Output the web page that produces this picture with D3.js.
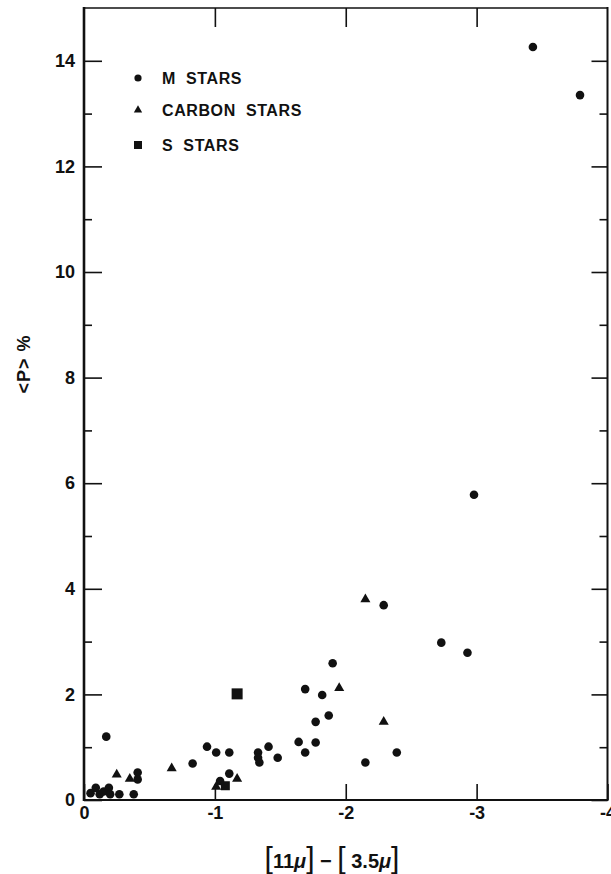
<!DOCTYPE html>
<html>
<head>
<meta charset="utf-8">
<script src="https://cdn.jsdelivr.net/npm/d3@7"></script>
<style>
  body { margin: 0; background: #fff; }
  text { font-family: "Liberation Sans", Arial, sans-serif; font-weight: bold; fill: #111; }
</style>
</head>
<body>
<svg id="chart" width="611" height="874"></svg>
<script>
// values
var mX = [-0.05, -0.09, -0.12, -0.15, -0.19, -0.20, -0.27, -0.38, -0.17, -0.41, -0.41,
          -0.83, -0.94, -1.01, -1.11, -1.04, -1.11, -1.33, -1.33, -1.34, -1.41, -1.48,
          -1.64, -1.69, -1.69, -1.90, -1.82, -1.87, -1.77, -1.77, -2.29, -2.15, -2.39,
          -2.73, -2.93, -2.98, -3.43, -3.79];
var mY = [0.13, 0.23, 0.11, 0.16, 0.23, 0.11, 0.11, 0.11, 1.20, 0.52, 0.39,
          0.69, 1.01, 0.90, 0.90, 0.36, 0.50, 0.90, 0.80, 0.71, 1.01, 0.80,
          1.10, 0.90, 2.10, 2.59, 1.99, 1.60, 1.48, 1.09, 3.69, 0.71, 0.90,
          2.98, 2.79, 5.78, 14.26, 13.35];
var cX = [-0.25, -0.35, -0.67, -1.01, -1.17, -1.95, -2.15, -2.29];
var cY = [0.48, 0.40, 0.60, 0.25, 0.40, 2.12, 3.80, 1.48];
var sX = [-1.08, -1.17];
var sY = [0.27, 2.01];

var xTicks = [0, -1, -2, -3, -4];
var yMajor = [0, 2, 4, 6, 8, 10, 12, 14];
var yMinor = [1, 3, 5, 7, 9, 11, 13];
var legendLabels = ['M  STARS', 'CARBON  STARS', 'S  STARS'];

var svg = d3.select('#chart');
var pLeft = 84, pRight = 607.5, pTop = 8, pBottom = 800;

var x = d3.scaleLinear().domain([0, -4]).range([pLeft, pRight]);
var y = d3.scaleLinear().domain([0, 15]).range([pBottom, pTop]);

// 刻度 (ticks point inward)
svg.append('g')
    .attr('transform', 'translate(' + pLeft + ',0)')
    .call(d3.axisLeft(y).tickValues(yMajor).tickSize(-18).tickPadding(9).tickFormat(d3.format('d')))
    .call(g => g.select('.domain').remove())
    .call(g => g.attr('font-size', null).attr('font-family', null))
    .call(g => g.selectAll('text').attr('font-size', 18))
svg.append('g')
    .attr('transform', 'translate(' + pLeft + ',0)')
    .call(d3.axisLeft(y).tickValues(yMinor).tickSize(-8).tickFormat(''))
    .call(g => g.select('.domain').remove())
svg.append('g')
    .attr('transform', 'translate(' + pRight + ',0)')
    .call(d3.axisRight(y).tickValues(yMajor).tickSize(-16).tickFormat(''))
    .call(g => g.select('.domain').remove())
svg.append('g')
    .attr('transform', 'translate(' + pRight + ',0)')
    .call(d3.axisRight(y).tickValues(yMinor).tickSize(-8).tickFormat(''))
    .call(g => g.select('.domain').remove())

svg.append('g')
    .attr('transform', 'translate(0,' + pBottom + ')')
    .call(d3.axisBottom(x).tickValues(xTicks).tickSize(-16).tickPadding(6).tickFormat(d => d == 0 ? '0' : '-' + Math.abs(d)))
    .call(g => g.select('.domain').remove())
    .call(g => g.attr('font-size', null).attr('font-family', null))
    .call(g => g.selectAll('text').attr('font-size', 18))
svg.append('g')
    .attr('transform', 'translate(0,' + pTop + ')')
    .call(d3.axisTop(x).tickValues([-1, -2, -3]).tickSize(-19).tickFormat(''))
    .call(g => g.select('.domain').remove())

svg.selectAll('.tick line').attr('stroke', '#111').attr('stroke-width', 1.6)

// 边框
svg.append('line').attr('x1', pLeft).attr('x2', pLeft).attr('y1', pTop - 1).attr('y2', pBottom + 1).attr('stroke', '#111').attr('stroke-width', 2.6)
svg.append('line').attr('x1', pRight).attr('x2', pRight).attr('y1', pTop - 1).attr('y2', pBottom + 1).attr('stroke', '#111').attr('stroke-width', 2)
svg.append('line').attr('x1', pLeft).attr('x2', pRight).attr('y1', pTop).attr('y2', pTop).attr('stroke', '#111').attr('stroke-width', 1.6)
svg.append('line').attr('x1', pLeft).attr('x2', pRight).attr('y1', pBottom).attr('y2', pBottom).attr('stroke', '#111').attr('stroke-width', 2.2)

// 数据点
var mData = mX.map((v, i) => [v, mY[i]]);
var cData = cX.map((v, i) => [v, cY[i]]);
var sData = sX.map((v, i) => [v, sY[i]]);

svg.append('g').selectAll('circle')
    .data(mData).enter().append('circle')
    .attr('cx', d => x(d[0]))
    .attr('cy', d => y(d[1]))
    .attr('r', 4.3)
    .attr('fill', '#111')

svg.append('g').selectAll('path')
    .data(cData).enter().append('path')
    .attr('d', d3.symbol().type(d3.symbolTriangle).size(44))
    .attr('transform', d => 'translate(' + x(d[0]) + ',' + y(d[1]) + ')')
    .attr('fill', '#111')

svg.append('g').selectAll('rect')
    .data(sData).enter().append('rect')
    .attr('x', (d, i) => x(d[0]) - (i == 1 ? 5.5 : 4.5))
    .attr('y', (d, i) => y(d[1]) - (i == 1 ? 5.5 : 4.5))
    .attr('width', (d, i) => i == 1 ? 11 : 9)
    .attr('height', (d, i) => i == 1 ? 11 : 9)
    .attr('fill', '#111')

// 图例
var legend = svg.append('g').attr('transform', 'translate(138,78)')
legend.append('circle').attr('cx', 0).attr('cy', 0).attr('r', 3.6).attr('fill', '#111')
legend.append('path').attr('d', d3.symbol().type(d3.symbolTriangle).size(30)).attr('transform', 'translate(0,32)').attr('fill', '#111')
legend.append('rect').attr('x', -4).attr('y', 63).attr('width', 8).attr('height', 8).attr('fill', '#111')
legend.selectAll('text')
    .data(legendLabels).enter().append('text')
    .attr('x', 24)
    .attr('y', (d, i) => [0, 32, 67][i])
    .attr('dy', '0.36em')
    .attr('font-size', 16)
    .attr('letter-spacing', 0.6)
    .style('white-space', 'pre')
    .text(d => d)

// 轴标题
svg.append('text')
    .attr('transform', 'translate(30,364) rotate(-90)')
    .attr('text-anchor', 'middle')
    .attr('font-size', 18)
    .attr('letter-spacing', 1)
    .style('white-space', 'pre')
    .text('<P> %')

var xl = svg.append('text')
    .attr('x', 332)
    .attr('y', 868)
    .attr('text-anchor', 'middle')
    .attr('font-size', 20)
    .style('white-space', 'pre')
xl.append('tspan').attr('font-size', 30).attr('font-weight', 'normal').text('[')
xl.append('tspan').text('11')
xl.append('tspan').attr('font-style', 'italic').text('μ')
xl.append('tspan').attr('font-size', 30).attr('font-weight', 'normal').text(']')
xl.append('tspan').text(' − ')
xl.append('tspan').attr('font-size', 30).attr('font-weight', 'normal').text('[')
xl.append('tspan').text(' 3.5')
xl.append('tspan').attr('font-style', 'italic').text('μ')
xl.append('tspan').attr('font-size', 30).attr('font-weight', 'normal').text(']')
</script>
</body>
</html>
